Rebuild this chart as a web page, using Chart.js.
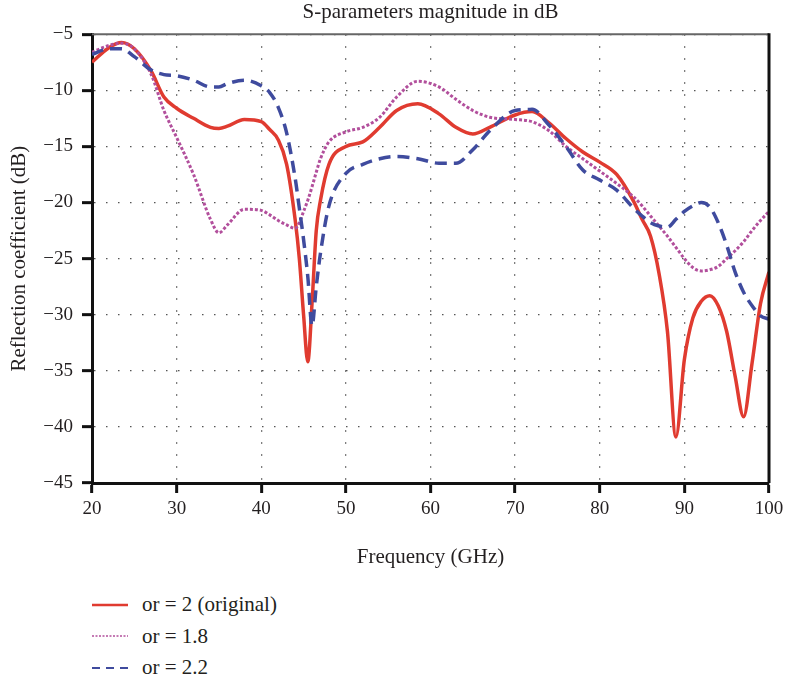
<!DOCTYPE html>
<html>
<head>
<meta charset="utf-8">
<script src="https://cdn.jsdelivr.net/npm/chart.js@4.4.1/dist/chart.umd.min.js"></script>
<style>
  body { margin: 0; background: #fff; }
  #wrap { position: relative; width: 785px; height: 684px; }
  #legend { position: absolute; left: 92px; top: 589px; font-family: 'Liberation Serif', serif; font-size: 21px; color: #231f20; }
  .item { display: flex; align-items: center; height: 31.5px; }
  .item svg { margin-right: 14px; }
</style>
</head>
<body>
<div id="wrap">
  <canvas id="graph" width="785" height="575"></canvas>
  <div id="legend"></div>
</div>
<script>
// frequency samples (GHz)
const freq = [20, 22, 23.5, 25, 27, 28.5, 30, 32, 34, 35, 36, 38, 40, 41, 42, 43, 44, 44.5, 45, 45.5, 46, 46.5, 47, 48, 50, 52, 54, 56, 58.5, 61, 63, 65, 67, 70, 72, 74, 76, 78, 80, 82, 84, 85, 86, 87, 88, 89, 90, 91, 92, 93, 94, 95, 96, 97, 98, 99, 100]

// reflection coefficient (dB) for each permittivity
const original = [-7.5, -6.2, -5.75, -6.3, -8.3, -10.6, -11.6, -12.5, -13.3, -13.4, -13.2, -12.6, -12.8, -13.5, -14.4, -16.6, -21.5, -25, -30, -34.2, -29, -22.5, -19.8, -16.6, -15, -14.6, -13.3, -11.8, -11.2, -12.1, -13.3, -13.9, -13.3, -12.2, -11.9, -12.9, -14.3, -15.5, -16.4, -17.5, -19.9, -21.5, -23, -26.3, -31.5, -40.9, -34, -30.3, -28.8, -28.3, -29.2, -31.5, -35.5, -39.1, -34.3, -29, -26.2]
const er18 = [-6.6, -6.0, -5.8, -6.3, -8.6, -11.8, -14.2, -17.5, -21.5, -22.7, -22.0, -20.6, -20.7, -21.1, -21.6, -22.0, -22.3, -21.8, -20.8, -19.8, -18.6, -17.3, -16.1, -14.6, -13.7, -13.3, -12.4, -10.6, -9.2, -9.7, -10.8, -11.8, -12.4, -12.6, -12.8, -13.6, -15, -16.1, -17.2, -18.3, -19.5, -20.3, -21.2, -22.1, -23, -24, -25, -25.8, -26.1, -26, -25.7, -25, -24.3, -23.5, -22.5, -21.6, -20.8]
const er22 = [-6.8, -6.3, -6.3, -7.0, -8.2, -8.6, -8.7, -9.1, -9.7, -9.7, -9.4, -9.1, -9.6, -10.2, -11.5, -13.8, -17.8, -20.5, -23.3, -26.6, -31, -27.5, -24.5, -20.3, -17.4, -16.6, -16.1, -15.9, -16.1, -16.5, -16.5, -15.3, -13.6, -11.8, -11.7, -13.1, -15, -17.1, -18, -18.9, -20.5, -21.2, -21.8, -22.1, -22.2, -21.5, -20.8, -20.3, -20, -20.4, -21.8, -23.8, -26.2, -28, -29.2, -30.1, -30.4]

const labels = ['or = 2 (original)', 'or = 1.8', 'or = 2.2']
const xTicks = [20, 30, 40, 50, 60, 70, 80, 90, 100]
const yTicks = [-5, -10, -15, -20, -25, -30, -35, -40, -45]

const serif = 'Liberation Serif'
const toPoints = ys => freq.map((f, i) => ({ x: f, y: ys[i] }))

const datasets = [
  { label: labels[0], data: toPoints(original), borderColor: '#e03b30', borderWidth: 3.5, order: 3 },
  { label: labels[1], data: toPoints(er18), borderColor: '#b24f9c', borderWidth: 3, borderDash: [3, 2], order: 2 },
  { label: labels[2], data: toPoints(er22), borderColor: '#3f4b9e', borderWidth: 3.5, borderDash: [12, 7], order: 1 }
].map(d => ({ ...d, pointRadius: 0, fill: false, cubicInterpolationMode: 'monotone', borderCapStyle: 'butt' }))

// top and right edges of the box
const frame = {
  id: 'frame',
  afterDraw(chart) {
    const { ctx, chartArea: a } = chart
    ctx.save()
    ctx.strokeStyle = '#666'
    ctx.lineWidth = 2
    ctx.beginPath(); ctx.moveTo(a.left, a.top); ctx.lineTo(a.right, a.top); ctx.stroke()
    ctx.strokeStyle = '#111'
    ctx.lineWidth = 3
    ctx.beginPath(); ctx.moveTo(a.right, a.top - 1); ctx.lineTo(a.right, a.bottom); ctx.stroke()
    ctx.restore()
  }
}

const gridOpts = { color: '#555', lineWidth: 1.3, tickColor: '#111', tickWidth: 3, tickLength: 10 }
const borderOpts = { color: '#111', width: 3, dash: [1.5, 10.5] }
const titleFont = { family: serif, size: 21, weight: 'normal' }

const cfg = {
  type: 'line',
  data: { datasets: datasets },
  plugins: [frame],
  options: {
    responsive: false,
    animation: false,
    layout: { padding: { right: 16 } },
    plugins: {
      legend: { display: false },
      tooltip: { enabled: false },
      title: {
        display: true,
        fullSize: false,
        text: 'S-parameters magnitude in dB',
        color: '#231f20',
        font: titleFont,
        padding: { top: 0, bottom: 9 }
      }
    },
    scales: {
      x: {
        type: 'linear',
        min: 20, max: 100,
        afterBuildTicks: s => { s.ticks = xTicks.map(v => ({ value: v })) },
        afterFit: s => { s.height = 92; s.paddingRight = 0 },
        ticks: { color: '#231f20', padding: 5, font: { family: serif, size: 19 } },
        grid: gridOpts,
        border: borderOpts,
        title: { display: true, text: 'Frequency (GHz)', color: '#231f20', font: titleFont, padding: { top: 4, bottom: 5 } }
      },
      y: {
        min: -45, max: -5,
        afterBuildTicks: s => { s.ticks = yTicks.map(v => ({ value: v })) },
        afterFit: s => { s.width = 92 },
        ticks: { color: '#231f20', padding: 9, font: { family: serif, size: 19 }, callback: v => String(v).replace('-', '\u2212') },
        grid: gridOpts,
        border: borderOpts,
        title: { display: true, text: 'Reflection coefficient (dB)', color: '#231f20', font: titleFont, padding: { top: 7, bottom: 0 } }
      }
    }
  }
}

const chart = new Chart(document.querySelector('#graph'), cfg)

// legend stacked below the plot, built from the datasets
const legendSizes = [{ w: 2.5, dash: '' }, { w: 1.5, dash: '2,1.5' }, { w: 2, dash: '8,6' }]
document.querySelector('#legend').innerHTML = datasets.map((d, i) =>
  `<div class="item"><svg width="36" height="10"><line x1="0" y1="5" x2="36" y2="5" stroke="${d.borderColor}" stroke-width="${legendSizes[i].w}" stroke-dasharray="${legendSizes[i].dash}"/></svg><span>${d.label}</span></div>`
).join('')
</script>
</body>
</html>
